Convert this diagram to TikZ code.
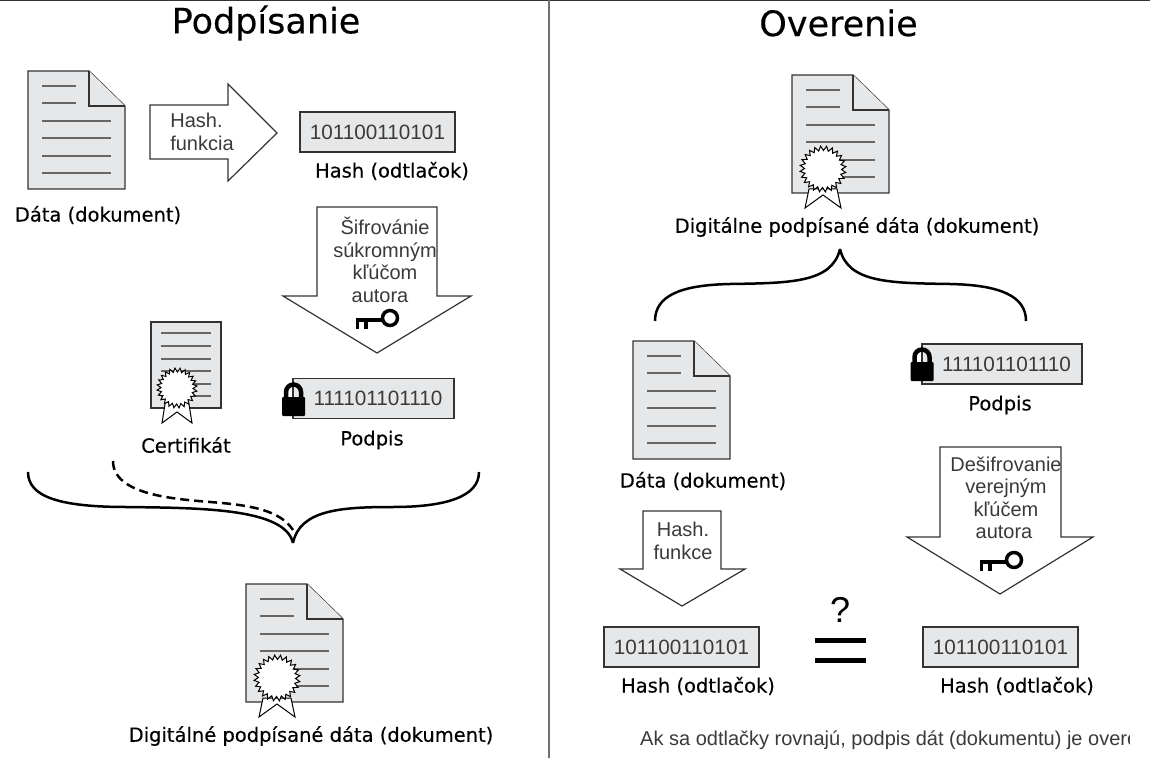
\documentclass[tikz,border=0pt]{standalone}
\usepackage{fontspec}
\setmainfont{DejaVu Sans}
\newfontfamily\thinfont{Liberation Sans}
\newfontfamily\labelfont[FakeBold=0.3]{DejaVu Sans}
\usetikzlibrary{positioning}
\definecolor{sheetfill}{HTML}{E6E7E8}
\definecolor{sheetline}{HTML}{333333}
\definecolor{thingray}{HTML}{3A3A3A}
\tikzset{
  sheet/.style={draw=sheetline, fill=sheetfill, line width=1.3pt, line join=miter},
  rowline/.style={draw=sheetline!75, line width=1.1pt},
  seal/.style={draw=black, fill=white, line width=1pt, line join=miter},
  arrowbox/.style={draw=sheetline, fill=white, line width=1.2pt, line join=miter},
  brace/.style={draw=black, line width=2.5pt},
  label/.style={font=\labelfont\fontsize{19.5}{22}\selectfont, inner sep=0pt},
  title/.style={font=\labelfont\fontsize{35}{38}\selectfont, inner sep=0pt},
  thintext/.style={font=\thinfont\fontsize{20}{22.5}\selectfont, text=thingray, inner sep=0pt, align=center},
  hashbox/.style={sheet, minimum width=155pt, minimum height=40pt, inner sep=0pt, text=thingray, font=\thinfont\fontsize{20.7}{22}\selectfont},
  pics/docu/.style={code={
    \draw[sheet] (0,0) -- (61,0) -- (97,35) -- (97,118) -- (0,118) -- cycle;
    \draw[sheet] (61,0) -- (61,35) -- (97,35);
    \foreach \y in {15,32} \draw[rowline] (14,\y) -- (48,\y);
    \foreach \y in {50,67,85,102} \draw[rowline] (14,\y) -- (83,\y);
  }},
  pics/seal/.style={code={
    \draw[seal] (-18,39) -- (-14,20) -- (14,20) -- (18,39) -- (0,26) -- cycle;
    \draw[seal] (24:23) \foreach \a in {1,...,23} {-- (\a*15+24-7.5:18.5) -- (\a*15+24:23)} -- (24-7.5:18.5) -- cycle;
  }},
  pics/smallseal/.style={code={
    \draw[seal] (-15,35) -- (-11,10) -- (11,10) -- (15,35) -- (0,24) -- cycle;
    \draw[seal] (24:20) \foreach \a in {1,...,23} {-- (\a*15+24-7.5:16) -- (\a*15+24:20)} -- (24-7.5:16) -- cycle;
  }},
  pics/keyicon/.style={code={
    \draw[black, line width=3.5pt] (0,0) circle (7.5);
    \draw[black, line width=4pt] (-7,2) -- (-34,2);
    \draw[black, line width=3.5pt] (-32.5,2) -- (-32.5,11);
    \draw[black, line width=3.5pt] (-24,2) -- (-24,11);
  }},
  pics/lockicon/.style={code={
    \fill[black, rounded corners=1pt] (-11.5,0) rectangle (11.5,19);
    \draw[black, line width=4.5pt] (-7.5,1) -- (-7.5,-5) arc[start angle=180, end angle=360, radius=7.5] -- (7.5,1);
  }}
}
\begin{document}
\begin{tikzpicture}[x=1pt, y=-1pt]
  \useasboundingbox (0,0) rectangle (1150,759);
  \draw[sheetline, line width=1.5pt] (0,0.5) -- (1150,0.5);
  \draw[sheetline!70, line width=1.5pt] (549,0) -- (549,758);

  % left side
  \node[title] (signtitle) at (266,23) {Podpísanie};
  \pic at (28,71) {docu};
  \node[label] (datal) at (98,215) {Dáta (dokument)};
  \draw[arrowbox] (150,105) -- (228,105) -- (228,84) -- (277,133) -- (228,181) -- (228,159) -- (150,159) -- cycle;
  \node[thintext] (hashl) at (202,132) {Hash.\hspace*{11pt}\\funkcia};
  \node[hashbox] (hashboxl) at (377.5,132) {101100110101};
  \node[label] (hashlabl) at (392,171) {Hash (odtlačok)};
  \draw[arrowbox] (317,207) -- (437,207) -- (437,296) -- (471,296) -- (377,353) -- (283,296) -- (317,296) -- cycle;
  \node[thintext] (encrypt) at (385,260) {Šifrovánie\\súkromným\\kľúčom\\autora\hspace*{10pt}};
  \pic at (390,318) {keyicon};
  \draw[sheet] (151,322) rectangle (221,408);
  \foreach \y in {333,346,359,371,384,396} \draw[rowline] (161,\y) -- (211,\y);
  \pic at (177,388) {smallseal};
  \node[label] (certl) at (186,445) {Certifikát};
  \node[hashbox, minimum width=161pt] (signbox) at (373.5,398.5) {\hspace*{9pt}111101101110};
  \pic at (293.5,397) {lockicon};
  \node[label] (signlab) at (372,440) {Podpis};

  \draw[brace] (28,472) .. controls (28,497) and (60,507) .. (127,507) .. controls (200,508) and (285,508) .. (293,543);
  \draw[brace] (479,472) .. controls (479,497) and (445,507) .. (393,507) .. controls (340,507) and (300,510) .. (293,543);
  \draw[brace, dashed, dash pattern=on 9pt off 5pt] (113,461) .. controls (113,495) and (175,499) .. (210,502) .. controls (250,505) and (280,510) .. (293,530);

  \pic at (246,584) {docu};
  \pic at (277,678) {seal};
  \node[label] (digl) at (311,736) {Digitálné podpísané dáta (dokument)};

  % right side
  \node[title] (verifytitle) at (838.5,23) {Overenie};
  \pic at (792,75) {docu};
  \pic at (823,169) {seal};
  \node[label] (digr) at (857,227) {Digitálne podpísané dáta (dokument)};
  \draw[brace] (655,321) .. controls (655,296) and (680,285) .. (730,284) .. controls (790,283) and (832,283) .. (840,249);
  \draw[brace] (1026,321) .. controls (1026,296) and (1000,285) .. (950,284) .. controls (890,283) and (848,283) .. (840,249);

  \pic at (633,341) {docu};
  \node[label] (datar) at (703,481) {Dáta (dokument)};
  \node[hashbox, minimum width=160pt] (sigboxr) at (1002,364) {\hspace*{9pt}111101101110};
  \pic at (922,362) {lockicon};
  \node[label] (sigrlab) at (1000,405) {Podpis};

  \draw[arrowbox] (643,511) -- (721,511) -- (721,569) -- (745,569) -- (682,606) -- (620,569) -- (643,569) -- cycle;
  \node[thintext] (hashfn) at (683,541) {Hash.\\funkce};
  \draw[arrowbox] (940,447) -- (1061,447) -- (1061,537) -- (1093,537) -- (1000,594) -- (907,537) -- (940,537) -- cycle;
  \node[thintext] (decrypt) at (1006,498) {Dešifrovanie\\verejným\hspace*{4pt}\\kľúčem\\autora\hspace*{4pt}};
  \pic at (1014,560) {keyicon};

  \node[hashbox] (boxa) at (681.5,647) {101100110101};
  \node[hashbox] (boxb) at (1000.5,647) {101100110101};
  \node[label] (laba) at (698,686) {Hash (odtlačok)};
  \node[label] (labb) at (1017,686) {Hash (odtlačok)};
  \node[font=\thinfont\fontsize{36}{38}\selectfont, inner sep=0pt] (quest) at (840,610) {?};
  \fill[black] (815,638) rectangle (866,643);
  \fill[black] (815,658) rectangle (866,663);
  \begin{scope}
    \clip (630,725) rectangle (1129,755);
    \node[font=\thinfont\fontsize{20}{22}\selectfont, text=thingray, inner sep=0pt, anchor=west] (result) at (640,740) {Ak sa odtlačky rovnajú, podpis dát (dokumentu) je overe};
  \end{scope}
\end{tikzpicture}
\end{document}
